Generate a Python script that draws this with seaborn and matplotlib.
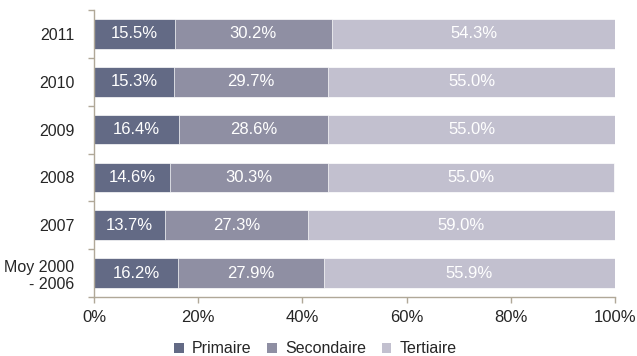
import matplotlib
matplotlib.use("Agg")
import matplotlib.pyplot as plt
import seaborn as sns
import pandas as pd
import numpy as np
from matplotlib.patches import Patch

categories = ["2011", "2010", "2009", "2008", "2007", "Moy 2000\n- 2006"]
primaire = [15.5, 15.3, 16.4, 14.6, 13.7, 16.2]
secondaire = [30.2, 29.7, 28.6, 30.3, 27.3, 27.9]
tertiaire = [54.3, 55.0, 55.0, 55.0, 59.0, 55.9]
series_names = ["Primaire", "Secondaire", "Tertiaire"]
colors = ["#636a85", "#8f8fa3", "#c2c0cf"]
xticks = [0, 20, 40, 60, 80, 100]

sns.set_theme(style="white")
plt.rcParams['font.family'] = ['Liberation Sans', 'DejaVu Sans']

df = pd.DataFrame({"cat": categories, "Primaire": primaire,
                   "Secondaire": secondaire, "Tertiaire": tertiaire})
df["c1"] = df["Primaire"]
df["c2"] = df["Primaire"] + df["Secondaire"]
df["c3"] = df["c2"] + df["Tertiaire"]

fig = plt.figure(figsize=(6.37, 3.56), dpi=100)
ax = fig.add_axes([94/637, 1-297/356, (615-94)/637, (297-10)/356])

for col, color in zip(["c3", "c2", "c1"], colors[::-1]):
    sns.barplot(data=df, x=col, y="cat", order=categories, color=color,
                width=0.62, ax=ax, edgecolor="white", linewidth=0.5,
                saturation=1)

for i, row in df.iterrows():
    starts = [0, row["c1"], row["c2"]]
    vals = [row["Primaire"], row["Secondaire"], row["Tertiaire"]]
    for s, v in zip(starts, vals):
        ax.text(s + v/2, i, f"{v:.1f}%", ha="center", va="center",
                color="white", fontsize=12)

ax.set_xlim(0, 100)
ax.set_ylim(len(categories)-0.5, -0.5)
ax.set_xticks(xticks)
ax.set_xticklabels([f"{t}%" for t in xticks], fontsize=12)
ax.set_yticks(range(len(categories)))
ax.set_yticklabels(categories, fontsize=11.5, multialignment="right")
ax.tick_params(axis="y", which="major", left=True, length=0, pad=14)
ax.set_yticks(np.arange(-0.5, len(categories), 1), minor=True)
ax.tick_params(axis="y", which="minor", left=True, length=4,
               color="#b0a898", width=1)
ax.tick_params(axis="x", bottom=True, length=4, color="#b0a898", width=1, pad=5)
ax.set_xlabel("")
ax.set_ylabel("")
for s in ["top", "right"]:
    ax.spines[s].set_visible(False)
for s in ["left", "bottom"]:
    ax.spines[s].set_color("#b0a898")
    ax.spines[s].set_linewidth(1)

handles = [Patch(facecolor=c, edgecolor="none") for c in colors]
fig.legend(handles, series_names, loc="center", bbox_to_anchor=(0.495, 0.02),
           ncol=3, frameon=False, fontsize=11.5, handlelength=0.6,
           handleheight=0.6, handletextpad=0.5, columnspacing=1.0)

fig.savefig("out.png", dpi=100)
